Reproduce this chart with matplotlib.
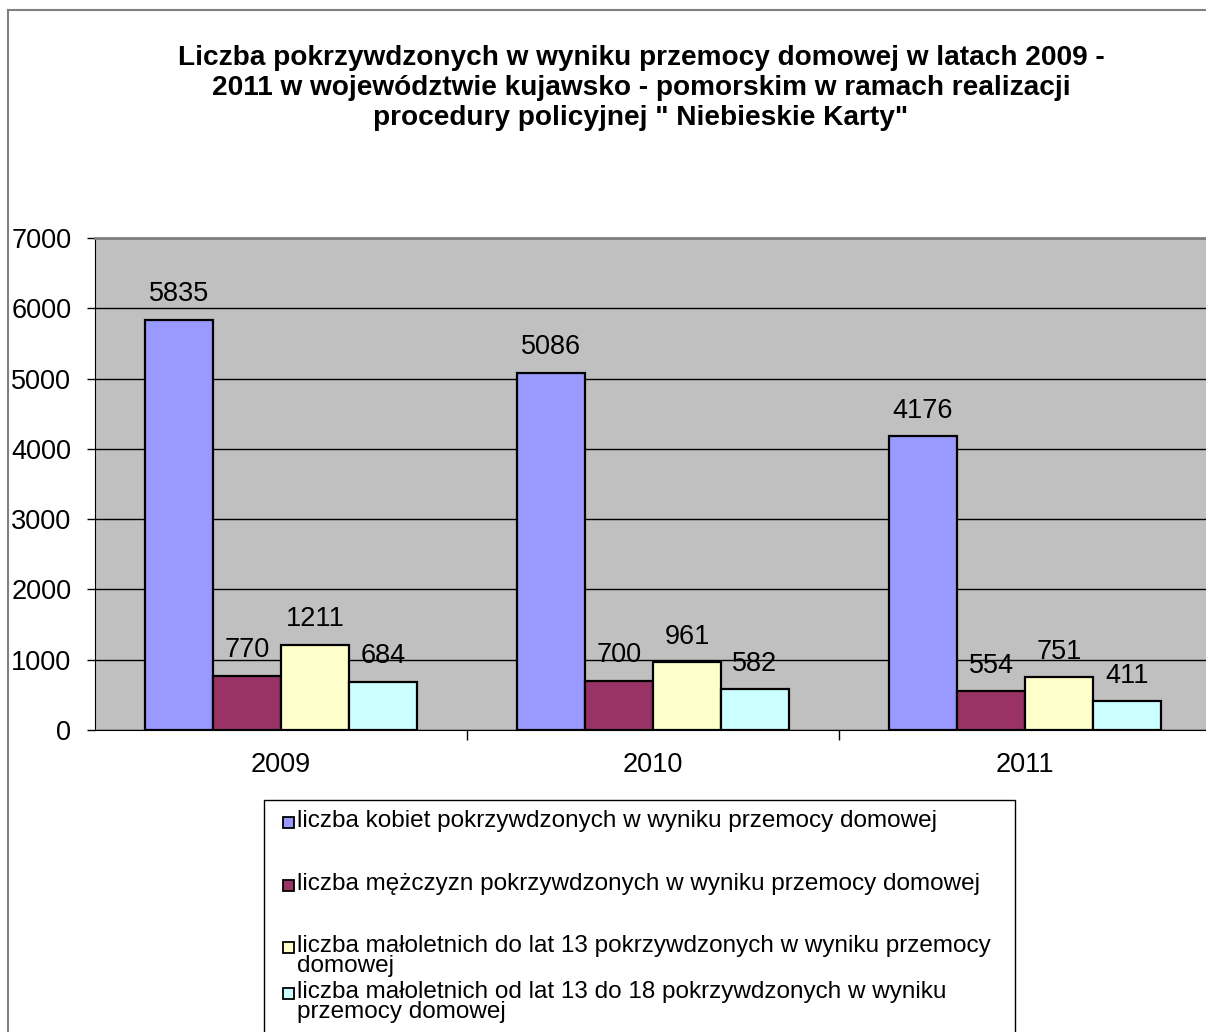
import matplotlib
matplotlib.use("Agg")
import matplotlib.pyplot as plt
from matplotlib.patches import Rectangle
from matplotlib.lines import Line2D
import numpy as np

plt.rcParams['font.family'] = ['Liberation Sans', 'DejaVu Sans']

years = ["2009", "2010", "2011"]
series_labels = [
    "liczba kobiet pokrzywdzonych w wyniku przemocy domowej",
    "liczba mężczyzn pokrzywdzonych w wyniku przemocy domowej",
    "liczba małoletnich do lat 13 pokrzywdzonych w wyniku przemocy\ndomowej",
    "liczba małoletnich od lat 13 do 18 pokrzywdzonych w wyniku\nprzemocy domowej",
]
kobiety = [5835, 5086, 4176]
mezczyzni = [770, 700, 554]
do_13 = [1211, 961, 751]
od_13_do_18 = [684, 582, 411]
series = [kobiety, mezczyzni, do_13, od_13_do_18]
colors = ["#9999FF", "#993366", "#FFFFCC", "#CCFFFF"]
yticks = [0, 1000, 2000, 3000, 4000, 5000, 6000, 7000]
title = ("Liczba pokrzywdzonych w wyniku przemocy domowej w latach 2009 -\n"
         "2011 w województwie kujawsko - pomorskim w ramach realizacji\n"
         "procedury policyjnej \" Niebieskie Karty\"")

W, H = 1206, 1032
fig = plt.figure(figsize=(W / 100, H / 100), dpi=100)

# outer chart border
fig.add_artist(Line2D([8 / W, 8 / W], [0, 1 - 9.5 / H], color="#808080", lw=1.5,
                      transform=fig.transFigure))
fig.add_artist(Line2D([8 / W, 1], [1 - 9.5 / H, 1 - 9.5 / H], color="#808080", lw=1.5,
                      transform=fig.transFigure))

left, right, top, bottom = 95, 1211, 238, 730
ax = fig.add_axes([left / W, 1 - bottom / H, (right - left) / W, (bottom - top) / H])
ax.set_facecolor("#C0C0C0")

x = np.arange(len(years))
bw = 68 / 372
for i, (vals, c) in enumerate(zip(series, colors)):
    xs = x + (i - 1.5) * bw
    ax.bar(xs, vals, width=bw, color=c, edgecolor="black", linewidth=1.6, zorder=3)
    for xb, v in zip(xs, vals):
        ax.annotate(str(v), (xb, v), xytext=(0, 9), textcoords="offset points",
                    ha="center", va="bottom", fontsize=19.5, zorder=4)

ax.set_xlim(-0.5, 2.5)
ax.set_ylim(0, 7000)
ax.set_yticks(yticks)
ax.set_yticklabels([str(t) for t in yticks], fontsize=19.5)
ax.yaxis.grid(True, color="black", lw=1)
ax.set_axisbelow(True)
ax.tick_params(axis="y", direction="out", length=6, width=1, pad=11)

ax.set_xticks(x)
ax.set_xticklabels(years, fontsize=19.5)
ax.tick_params(axis="x", length=0, pad=16)
ax.set_xticks([0.5, 1.5, 2.5], minor=True)
ax.tick_params(axis="x", which="minor", direction="out", length=7, width=1)

ax.spines["left"].set_color("black")
ax.spines["bottom"].set_color("black")
ax.spines["top"].set_color("#808080")
ax.spines["top"].set_linewidth(2)
ax.spines["right"].set_visible(False)

fig.text(641 / W, 1 - 88 / H, title, ha="center", va="center", fontsize=20.2,
         fontweight="bold", linespacing=1.2)

# legend drawn manually
lg_left, lg_top, lg_right = 264, 800, 1015
fig.add_artist(Rectangle((lg_left / W, -0.01), (lg_right - lg_left) / W, 1 - lg_top / H + 0.01,
                         transform=fig.transFigure, facecolor="white",
                         edgecolor="black", lw=1))
entry_y = [822, 885, 947, 993]
for yy, lab, c in zip(entry_y, series_labels, colors):
    fig.add_artist(Rectangle((283 / W, 1 - (yy + 5.5) / H), 11 / W, 11 / H,
                             transform=fig.transFigure, facecolor=c,
                             edgecolor="black", lw=1.3))
    fig.text(297 / W, 1 - (yy - 12) / H, lab, ha="left", va="top", fontsize=17.5,
             linespacing=0.88)

fig.savefig("out.png", dpi=100)
